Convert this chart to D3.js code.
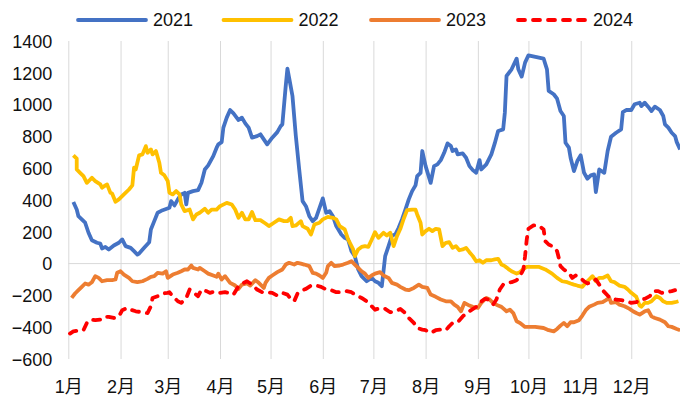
<!DOCTYPE html>
<html>
  <head>
    <meta charset="utf-8">
    <title>2021-2024</title>
    <script src="https://cdnjs.cloudflare.com/ajax/libs/d3/7.8.5/d3.min.js"></script>
    <style>
      body { margin: 0; background: #fff; }
      #chart { display: block; }
      text { font-family: "Liberation Sans", Arial, "Noto Sans CJK SC", sans-serif; font-size: 18px; fill: #111; }
      .axis path { display: none; }
      .axis line { stroke: #d9d9d9; stroke-width: 1; }
      .plot { fill: none; stroke-width: 3.8; stroke-linejoin: round; }
    </style>
  </head>
  <body>
    <svg id="chart" width="680" height="401">
      <g id="axes">
        <g id="xAxisGroup" class="axis"></g>
        <g id="yAxisGroup" class="axis"></g>
      </g>
      <g id="chartGroup"></g>
      <g id="legend"></g>
    </svg>
    <script>
      // chart data: [day of year, value]
      seriesNames = ["2021", "2022", "2023", "2024"];
      monthLabels = ["1月", "2月", "3月", "4月", "5月", "6月", "7月", "8月", "9月", "10月", "11月", "12月"];
      yTicks = [-600, -400, -200, 0, 200, 400, 600, 800, 1000, 1200, 1400];

      data2021 = [[3,387],[5,340],[6,298],[10,257],[12,194],[14,147],[17,131],[19,126],[20,95],[22,105],[24,89],[27,114],[30,131],[32,152],[34,110],[37,99],[39,78],[41,57],[42,63],[45,99],[48,135],[49,215],[51,267],[53,320],[56,336],[60,351],[61,393],[63,366],[65,404],[67,435],[69,445],[70,372],[71,445],[74,456],[77,462],[79,508],[81,592],[83,618],[86,676],[88,729],[89,750],[91,764],[92,855],[94,918],[96,966],[98,945],[101,903],[103,918],[105,882],[107,855],[109,792],[112,802],[114,813],[116,781],[118,750],[121,792],[124,827],[126,865],[127,876],[129,1117],[130,1226],[131,1170],[133,1054],[135,802],[137,592],[139,393],[141,361],[143,298],[145,267],[147,288],[151,410],[153,320],[155,330],[157,298],[159,236],[162,183],[164,162],[166,152],[168,78],[170,47],[172,-37],[174,-79],[177,-111],[180,-90],[182,-111],[184,-121],[186,-142],[187,-48],[188,47],[190,110],[192,177],[194,183],[196,225],[198,278],[200,340],[202,404],[204,456],[206,492],[207,550],[209,571],[210,708],[212,613],[215,508],[217,613],[219,624],[221,651],[223,697],[225,756],[227,739],[228,708],[230,718],[231,687],[234,693],[236,666],[238,613],[240,588],[242,571],[244,651],[245,592],[248,624],[251,687],[253,756],[255,834],[258,844],[259,949],[260,1180],[263,1222],[266,1289],[267,1222],[269,1176],[271,1264],[273,1310],[282,1289],[284,1222],[285,1086],[288,1065],[290,1037],[292,960],[294,928],[295,760],[297,729],[298,666],[300,582],[302,645],[304,681],[306,571],[308,534],[310,555],[312,561],[313,450],[315,592],[318,571],[320,708],[322,798],[325,823],[328,844],[329,953],[331,966],[334,966],[336,1002],[339,1012],[340,991],[342,1012],[344,987],[346,960],[348,987],[351,966],[353,928],[354,876],[356,855],[358,823],[360,802],[361,764],[363,718]];

      data2022 = [[3,681],[5,660],[5,592],[7,571],[9,550],[11,508],[13,529],[14,540],[16,519],[19,498],[20,477],[22,492],[23,498],[25,445],[26,441],[28,389],[30,404],[33,435],[36,466],[38,492],[39,603],[40,592],[42,681],[44,687],[46,739],[47,697],[49,718],[50,687],[52,708],[54,634],[55,571],[57,555],[59,519],[60,445],[62,435],[64,456],[66,435],[67,372],[69,330],[72,340],[74,278],[76,309],[78,320],[81,345],[83,320],[85,340],[88,340],[90,361],[91,366],[94,382],[97,372],[99,340],[101,288],[103,320],[105,278],[107,278],[109,324],[111,273],[114,273],[117,252],[119,236],[122,257],[125,278],[128,267],[130,267],[132,288],[133,236],[135,240],[138,267],[139,236],[142,219],[144,183],[146,246],[149,257],[151,278],[154,294],[157,288],[159,278],[161,236],[164,215],[166,152],[169,89],[170,47],[172,89],[174,105],[176,110],[178,105],[180,150],[182,198],[184,162],[187,194],[189,177],[191,194],[193,110],[195,173],[197,219],[199,282],[201,336],[204,340],[206,340],[207,309],[209,257],[210,183],[212,204],[214,219],[216,204],[218,219],[220,215],[222,110],[224,131],[226,135],[228,99],[230,110],[232,84],[234,89],[236,99],[238,72],[240,47],[242,15],[244,21],[246,5],[248,21],[251,21],[253,26],[255,30],[257,-6],[259,-16],[261,-33],[263,-48],[266,-63],[268,-54],[270,-33],[272,-20],[279,-20],[283,-37],[287,-63],[290,-90],[293,-111],[296,-117],[298,-125],[300,-132],[302,-138],[305,-146],[307,-121],[309,-100],[311,-79],[313,-111],[315,-90],[317,-90],[320,-75],[322,-111],[324,-117],[327,-138],[330,-146],[332,-163],[334,-184],[337,-209],[339,-264],[340,-272],[342,-247],[344,-247],[346,-237],[349,-205],[351,-216],[353,-237],[355,-247],[358,-247],[360,-243],[362,-237]];

      data2023 = [[2,-216],[4,-188],[6,-167],[8,-146],[10,-125],[12,-132],[14,-117],[16,-79],[18,-90],[20,-111],[23,-104],[26,-104],[28,-100],[29,-58],[31,-48],[33,-69],[36,-90],[38,-111],[41,-117],[44,-111],[47,-96],[49,-83],[51,-79],[53,-58],[56,-63],[58,-48],[59,-90],[62,-69],[65,-58],[67,-48],[69,-37],[71,-37],[73,-12],[74,-27],[77,-37],[78,-27],[81,-48],[83,-63],[86,-75],[88,-83],[89,-63],[91,-100],[93,-79],[96,-121],[99,-138],[101,-159],[103,-132],[106,-125],[108,-138],[111,-104],[113,-121],[116,-153],[117,-121],[119,-90],[121,-75],[124,-54],[127,-37],[129,-6],[131,5],[134,-6],[136,5],[138,0],[140,-6],[143,-16],[145,-58],[147,-63],[149,-75],[151,-90],[153,-58],[154,-16],[156,5],[158,-16],[161,-12],[163,-6],[166,5],[168,15],[170,-6],[172,-27],[174,-48],[176,-63],[178,-90],[180,-75],[182,-63],[185,-54],[187,-75],[190,-90],[192,-121],[195,-132],[197,-146],[200,-163],[202,-167],[205,-153],[208,-132],[210,-146],[213,-153],[215,-195],[218,-209],[221,-226],[224,-237],[227,-237],[229,-258],[231,-272],[233,-300],[235,-247],[238,-264],[240,-272],[243,-279],[245,-247],[248,-216],[250,-226],[252,-247],[255,-264],[257,-272],[260,-300],[262,-290],[264,-311],[266,-363],[268,-373],[271,-398],[277,-398],[282,-405],[285,-419],[288,-426],[290,-411],[292,-390],[294,-373],[296,-394],[298,-369],[300,-369],[303,-356],[305,-327],[307,-293],[309,-272],[312,-258],[314,-247],[317,-243],[319,-230],[321,-216],[322,-247],[325,-243],[327,-258],[330,-268],[333,-285],[335,-300],[337,-311],[339,-321],[342,-300],[344,-293],[346,-332],[348,-342],[351,-352],[354,-369],[356,-394],[358,-398],[361,-411],[363,-419]];

      data2024 = [[1,-440],[3,-426],[7,-419],[9,-419],[11,-373],[13,-352],[16,-356],[19,-352],[21,-335],[24,-335],[27,-342],[30,-332],[32,-293],[35,-279],[37,-290],[40,-300],[44,-306],[47,-311],[49,-268],[50,-216],[53,-205],[56,-188],[59,-184],[60,-180],[62,-205],[65,-237],[67,-247],[70,-216],[72,-163],[74,-180],[77,-205],[79,-163],[82,-173],[84,-184],[87,-175],[90,-184],[93,-180],[95,-184],[98,-195],[101,-142],[104,-121],[106,-111],[109,-132],[112,-163],[115,-180],[118,-180],[121,-184],[124,-201],[127,-184],[130,-195],[132,-222],[134,-237],[136,-188],[139,-167],[141,-159],[144,-138],[147,-138],[150,-146],[153,-163],[156,-167],[159,-180],[162,-180],[165,-173],[168,-180],[171,-201],[174,-216],[177,-237],[180,-268],[182,-290],[185,-279],[188,-285],[191,-306],[194,-300],[197,-285],[200,-311],[202,-342],[205,-373],[207,-405],[210,-415],[212,-419],[215,-436],[218,-419],[221,-415],[224,-419],[226,-394],[228,-373],[231,-369],[234,-332],[237,-306],[239,-293],[242,-272],[244,-247],[247,-222],[249,-226],[252,-258],[254,-226],[256,-163],[258,-132],[260,-121],[263,-117],[266,-104],[268,-79],[270,-37],[271,47],[272,152],[273,219],[276,240],[279,240],[282,215],[283,141],[285,120],[288,105],[290,78],[291,36],[292,-16],[294,-37],[297,-58],[299,-90],[301,-75],[303,-83],[306,-111],[308,-125],[311,-117],[313,-100],[315,-132],[317,-167],[320,-201],[322,-222],[325,-226],[328,-230],[331,-237],[334,-247],[337,-243],[339,-226],[342,-222],[345,-205],[347,-173],[350,-173],[352,-184],[355,-180],[358,-173],[360,-167]];

      seriesData = [data2021, data2022, data2023, data2024];
      colours = ["#4472C4", "#FFC000", "#ED7D31", "#FF0000"];

      // page elements
      margin = { top: 41, bottom: 42, left: 68.3 };
      width = 680;
      height = 401;
      chartGroup = d3.select("#chartGroup");
      xAxisGroup = d3.select("#xAxisGroup");
      yAxisGroup = d3.select("#yAxisGroup");
      legend = d3.select("#legend");

      // set up
      yearStart = new Date(2021, 0, 1);
      monthStarts = d3.timeMonths(yearStart, new Date(2022, 0, 1))
        .map(function(m) { return d3.timeDay.count(yearStart, m); });
      x = d3.scaleLinear()
        .domain([0, 365])
        .range([margin.left, 683.5]);
      y = d3.scaleLinear()
        .domain([-600, 1400])
        .range([height - margin.bottom, margin.top]);

      xAxis = d3.axisBottom(x)
        .tickValues(monthStarts)
        .tickFormat(function(d, i) { return monthLabels[i]; })
        .tickSizeOuter(0)
        .tickSizeInner(margin.top + margin.bottom - height)
        .tickPadding(21);
      yAxis = d3.axisLeft(y)
        .tickValues(yTicks)
        .tickFormat(d3.format("d"))
        .tickSize(0)
        .tickPadding(16);

      xAxisGroup.attr("transform", "translate(0, " + (height - margin.bottom) + ")")
        .call(xAxis);
      yAxisGroup.attr("transform", "translate(" + margin.left + ", 0)")
        .call(yAxis);
      yAxisGroup.selectAll("text").attr("dy", "0.35em");

      // zero line
      chartGroup.append("line")
        .attr("x1", margin.left)
        .attr("x2", width)
        .attr("y1", y(0))
        .attr("y2", y(0))
        .attr("stroke", "#d9d9d9")
        .attr("stroke-width", 1);

      line = d3.line()
        .x(function(d) { return x(d[0]); })
        .y(function(d) { return y(d[1]); });

      seriesData.forEach(function(s, i) {
        chartGroup.append("path")
          .classed("plot", true)
          .attr("stroke", colours[i])
          .attr("stroke-dasharray", i === 3 ? "7,8" : null)
          .attr("stroke-linecap", i === 3 ? "round" : "butt")
          .attr("d", line(s));
      });

      // legend
      legendX = [77, 222.5, 370, 517];
      seriesNames.forEach(function(name, i) {
        legend.append("line")
          .attr("x1", legendX[i] + 1)
          .attr("x2", legendX[i] + 69)
          .attr("y1", 20)
          .attr("y2", 20)
          .attr("stroke", colours[i])
          .attr("stroke-width", 3.8)
          .attr("stroke-linecap", "round")
          .attr("stroke-dasharray", i === 3 ? "7,8" : null);
        legend.append("text")
          .attr("x", legendX[i] + 76)
          .attr("y", 20)
          .attr("dy", "0.35em")
          .text(name);
      });
    </script>
  </body>
</html>
